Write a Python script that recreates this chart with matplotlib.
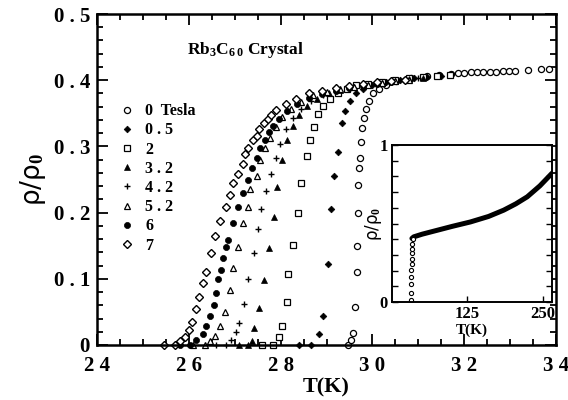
import matplotlib
matplotlib.use("Agg")
import matplotlib.pyplot as plt
from matplotlib.ticker import MultipleLocator, FixedLocator

plt.rcParams['font.family'] = ['Liberation Serif', 'DejaVu Serif']
plt.rcParams['font.weight'] = 'bold'
plt.rcParams['mathtext.fontset'] = 'custom'
plt.rcParams['mathtext.rm'] = 'Liberation Serif:bold'
plt.rcParams['mathtext.bf'] = 'Liberation Serif:bold'
plt.rcParams['mathtext.it'] = 'Liberation Serif:bold'

# --- data: rho/rho0 vs T for each field (Tesla) ---
T_0 = [29.46, 29.53, 29.57, 29.62, 29.66, 29.66, 29.68, 29.68, 29.70, 29.73, 29.75, 29.77,
       29.81, 29.86, 29.93, 30.02, 30.15, 30.30, 30.52, 30.85, 31.20, 31.45, 31.72, 31.86,
       32.00, 32.14, 32.28, 32.42, 32.56, 32.70, 32.84, 32.98, 33.10, 33.40, 33.68, 33.85]
R_0 = [0.0, 0.0075, 0.018, 0.057, 0.110, 0.149, 0.199, 0.241, 0.267, 0.283, 0.307, 0.328,
       0.343, 0.357, 0.369, 0.380, 0.387, 0.393, 0.399, 0.403, 0.406, 0.408, 0.410, 0.411,
       0.411, 0.412, 0.412, 0.413, 0.413, 0.413, 0.414, 0.414, 0.414, 0.415, 0.417, 0.417]

T_05 = [28.40, 28.66, 28.83, 28.92, 29.03, 29.09, 29.16, 29.25, 29.33, 29.40, 29.51, 29.64,
        29.79, 30.00, 30.30, 30.60, 30.90, 31.20, 31.50]
R_05 = [0.0, 0.0, 0.017, 0.044, 0.122, 0.205, 0.255, 0.292, 0.336, 0.354, 0.369, 0.380,
        0.387, 0.392, 0.397, 0.400, 0.403, 0.405, 0.407]

T_2 = [27.60, 27.83, 27.96, 28.04, 28.13, 28.17, 28.26, 28.37, 28.44, 28.57, 28.63, 28.72,
       28.81, 28.92, 29.07, 29.25, 29.44, 29.64, 29.90, 30.20, 30.50, 30.80, 31.10, 31.40, 31.70]
R_2 = [0.0, 0.0, 0.012, 0.029, 0.065, 0.108, 0.151, 0.200, 0.244, 0.286, 0.309, 0.330,
       0.349, 0.361, 0.372, 0.380, 0.386, 0.392, 0.395, 0.398, 0.401, 0.403, 0.405, 0.407, 0.408]

T_32 = [27.10, 27.30, 27.37, 27.43, 27.54, 27.63, 27.74, 27.85, 27.93, 28.04, 28.15, 28.26,
        28.39, 28.57, 28.79, 29.05, 29.30, 29.60, 29.90, 30.20, 30.50, 30.80, 31.10]
R_32 = [0.0, 0.0, 0.006, 0.026, 0.056, 0.098, 0.146, 0.193, 0.238, 0.279, 0.309, 0.331,
        0.348, 0.361, 0.372, 0.380, 0.385, 0.389, 0.393, 0.396, 0.399, 0.402, 0.404]

T_42 = [26.60, 26.80, 26.91, 27.02, 27.10, 27.21, 27.30, 27.41, 27.50, 27.58, 27.69, 27.78,
        27.89, 27.98, 28.11, 28.26, 28.44, 28.66, 28.92, 29.20, 29.50, 29.80, 30.10, 30.40,
        30.70, 31.00]
R_42 = [0.0, 0.0, 0.0075, 0.020, 0.033, 0.062, 0.099, 0.139, 0.175, 0.206, 0.232, 0.258,
        0.282, 0.304, 0.327, 0.343, 0.357, 0.369, 0.378, 0.383, 0.388, 0.392, 0.395, 0.398,
        0.401, 0.403]

T_52 = [26.10, 26.36, 26.47, 26.58, 26.67, 26.78, 26.89, 26.97, 27.08, 27.19, 27.28, 27.34,
        27.48, 27.56, 27.65, 27.76, 27.89, 28.04, 28.22, 28.44, 28.70, 29.00, 29.30, 29.60,
        29.90, 30.20, 30.50, 30.80]
R_52 = [0.0, 0.0, 0.006, 0.0136, 0.0286, 0.0497, 0.083, 0.116, 0.148, 0.184, 0.208, 0.235,
        0.256, 0.280, 0.297, 0.313, 0.330, 0.345, 0.357, 0.367, 0.377, 0.382, 0.386, 0.390,
        0.393, 0.396, 0.399, 0.401]

T_6 = [25.80, 26.03, 26.16, 26.30, 26.38, 26.47, 26.54, 26.60, 26.64, 26.71, 26.75, 26.82,
       26.86, 26.97, 27.08, 27.17, 27.28, 27.37, 27.48, 27.56, 27.65, 27.74, 27.83, 27.96,
       28.13, 28.35, 28.61, 28.90, 29.20, 29.50, 29.80, 30.10, 30.40, 30.70]
R_6 = [0.0, 0.0, 0.0075, 0.0166, 0.0286, 0.0437, 0.060, 0.078, 0.099, 0.113, 0.131, 0.148,
       0.158, 0.185, 0.208, 0.230, 0.250, 0.268, 0.283, 0.297, 0.309, 0.321, 0.331, 0.342,
       0.354, 0.364, 0.373, 0.379, 0.384, 0.388, 0.391, 0.394, 0.397, 0.400]

T_7 = [25.45, 25.70, 25.81, 25.92, 26.01, 26.08, 26.16, 26.23, 26.32, 26.38, 26.49, 26.58,
       26.69, 26.80, 26.89, 26.97, 27.08, 27.17, 27.23, 27.30, 27.39, 27.48, 27.54, 27.63,
       27.72, 27.80, 27.91, 28.11, 28.33, 28.61, 28.90, 29.20, 29.50, 29.80, 30.10, 30.40, 30.70]
R_7 = [0.0, 0.0, 0.006, 0.012, 0.023, 0.035, 0.054, 0.072, 0.093, 0.110, 0.139, 0.164,
       0.187, 0.208, 0.226, 0.244, 0.259, 0.274, 0.289, 0.298, 0.309, 0.316, 0.327, 0.336,
       0.342, 0.348, 0.355, 0.364, 0.372, 0.380, 0.384, 0.388, 0.391, 0.394, 0.397, 0.399, 0.401]

# inset: full temperature range
inset_T_drop = [32, 32, 32, 32, 32, 32.5, 32.5, 33, 33, 33.5, 34]
inset_R_drop = [0.01, 0.057, 0.113, 0.16, 0.206, 0.245, 0.277, 0.309, 0.34, 0.372, 0.40]
inset_T = [33, 36, 50, 75, 100, 130, 160, 185, 205, 224, 245, 265]
inset_R = [0.405, 0.415, 0.432, 0.457, 0.482, 0.51, 0.545, 0.585, 0.625, 0.67, 0.74, 0.82]

series = [
    (T_0, R_0, "0  Tesla", dict(marker='o', ms=4.4, mfc='white', mec='black', mew=0.9)),
    (T_05, R_05, "0 . 5", dict(marker='D', ms=3.4, mfc='black', mec='black', mew=0.5)),
    (T_2, R_2, "2", dict(marker='s', ms=4.7, mfc='white', mec='black', mew=0.9)),
    (T_32, R_32, "3 . 2", dict(marker='^', ms=4.2, mfc='black', mec='black', mew=0.5)),
    (T_42, R_42, "4 . 2", dict(marker='+', ms=4.7, mfc='black', mec='black', mew=1.0)),
    (T_52, R_52, "5 . 2", dict(marker='^', ms=4.4, mfc='white', mec='black', mew=0.9)),
    (T_6, R_6, "6", dict(marker='o', ms=4.4, mfc='black', mec='black', mew=0.5)),
    (T_7, R_7, "7", dict(marker='D', ms=3.6, mfc='white', mec='black', mew=1.0)),
]

fig = plt.figure(figsize=(5.68, 4.0), dpi=100)
ax = fig.add_axes([97/568, 1-345/400, (556-97)/568, (345-14)/400])

for T, R, lab, st in series:
    ax.plot(T, R, linestyle='none', label=lab, clip_on=False, **st)

ax.set_xlim(24, 34)
ax.set_ylim(0, 0.5)
ax.xaxis.set_major_locator(FixedLocator([24, 26, 28, 30, 32, 34]))
ax.xaxis.set_minor_locator(MultipleLocator(0.5))
ax.yaxis.set_major_locator(FixedLocator([0, 0.1, 0.2, 0.3, 0.4, 0.5]))
ax.yaxis.set_minor_locator(MultipleLocator(0.02))
ax.set_xticklabels(["2 4", "2 6", "2 8", "3 0", "3 2", "3 4"])
ax.set_yticklabels(["0", "0 . 1", "0 . 2", "0 . 3", "0 . 4", "0 . 5"])
ax.tick_params(which='both', direction='in', top=True, right=True, width=1.3,
               labelsize=15)
ax.tick_params(axis='x', pad=8)
ax.tick_params(axis='y', pad=5)
ax.tick_params(which='major', length=8)
ax.tick_params(which='minor', length=4)
for sp in ax.spines.values():
    sp.set_linewidth(1.8)

ax.set_xlabel("T(K)", fontsize=16, fontweight='bold', labelpad=1)
ax.set_ylabel("ρ/ρ$_0$", fontsize=19, family='DejaVu Sans', fontweight='normal',
              labelpad=4)

ax.text(0.195, 0.88, r"Rb$_{3}$C$_{6\,0}$ Crystal", transform=ax.transAxes,
        fontsize=12.5, fontweight='bold')

ax.legend(loc='upper left', bbox_to_anchor=(0.035, 0.75), frameon=False,
          handlelength=1.0, handletextpad=0.6, labelspacing=0.2,
          borderaxespad=0, prop={'weight': 'bold', 'size': 11.5})

# inset
ax_in = fig.add_axes([392/568, 1-302/400, (552-392)/568, (302-145)/400])
ax_in.set_facecolor('white')
ax_in.plot(inset_T, inset_R, color='black', lw=3.6, solid_capstyle='round')
ax_in.plot(inset_T_drop, inset_R_drop, linestyle='none', marker='o', ms=3.0,
           mfc='white', mec='black', mew=0.8)
ax_in.set_xlim(0, 265)
ax_in.set_ylim(0, 1)
ax_in.xaxis.set_major_locator(FixedLocator([125, 250]))
ax_in.set_xticklabels(["125", "250"])
ax_in.yaxis.set_major_locator(FixedLocator([0, 1]))
ax_in.yaxis.set_minor_locator(MultipleLocator(0.1))
ax_in.set_yticklabels(["0", "1"])
ax_in.tick_params(which='both', direction='in', right=True, width=1.0,
                  labelsize=12, pad=3)
ax_in.tick_params(which='major', length=4)
ax_in.tick_params(which='minor', length=4)
for sp in ax_in.spines.values():
    sp.set_linewidth(1.4)
ax_in.set_xlabel("T(K)", fontsize=11, fontweight='bold', labelpad=1)
ax_in.set_ylabel("ρ/ρ$_0$", fontsize=12, family='DejaVu Sans', fontweight='normal',
                 labelpad=-3)

fig.savefig("out.png", dpi=100)
